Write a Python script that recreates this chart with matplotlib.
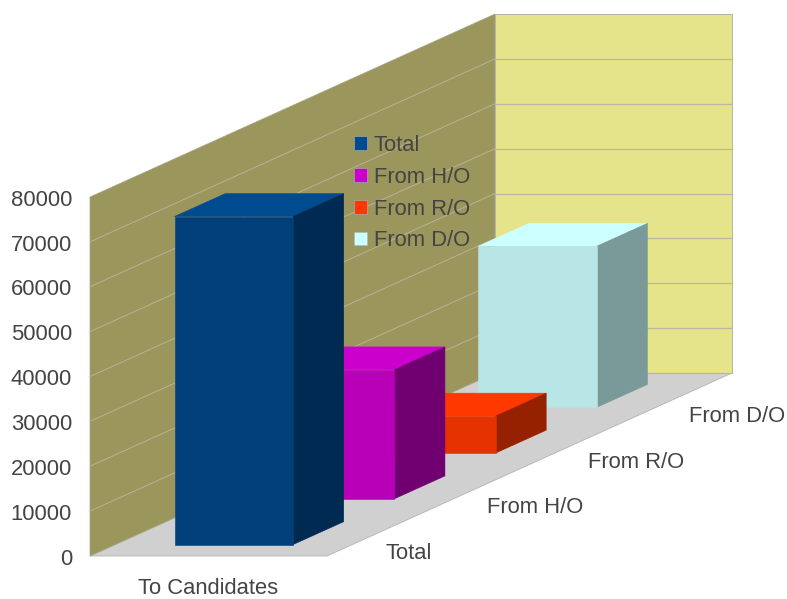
import matplotlib
matplotlib.use("Agg")
import matplotlib.pyplot as plt
from matplotlib.patches import Patch

plt.rcParams['font.family'] = ['Liberation Sans', 'DejaVu Sans']

category = "To Candidates"
series_names = ["Total", "From H/O", "From R/O", "From D/O"]
series_values = [73100, 28750, 8250, 35900]
value_ticks = [0, 10000, 20000, 30000, 40000, 50000, 60000, 70000, 80000]
front_colors = ["#003f7a", "#b800b8", "#e63200", "#b8e5e5"]
top_colors = ["#004a8f", "#cc00cc", "#ff3800", "#ccffff"]
side_colors = ["#002a52", "#700070", "#952100", "#7a9999"]
legend_colors = top_colors

TEXT = "#444444"
GRID = "#b8b8a8"
FS = 15.8

ORIGIN = (90.0, 556.0)
WIDTH = 237.0
DX, DY = 101.25, 45.75
VSCALE = 359.0 / 80000.0
VMAX = value_ticks[-1]
N = len(series_names)


def proj(x, d, v):
    """x in 0..1 across the category, d in series slots, v in data units."""
    return ORIGIN[0] + WIDTH * x + DX * d, ORIGIN[1] - DY * d - VSCALE * v


def face(ax, corners, color, z, edge=None, lw=0.0):
    pts = [proj(*c) for c in corners]
    ax.fill([p[0] for p in pts], [p[1] for p in pts], facecolor=color,
            edgecolor=edge if edge else color, linewidth=lw if edge else 0.4, zorder=z)


fig = plt.figure(figsize=(7.87, 5.99), dpi=100, facecolor="white")
ax = fig.add_axes([0, 0, 1, 1])
ax.set_xlim(0, 787)
ax.set_ylim(599, 0)
ax.axis("off")

# walls and floor
face(ax, [(0, 0, 0), (1, 0, 0), (1, N, 0), (0, N, 0)], "#d0d0d0", 1, "#b3b3b3", 0.6)
face(ax, [(0, 0, 0), (0, N, 0), (0, N, VMAX), (0, 0, VMAX)], "#9b965c", 1, "#a8a68a", 0.5)
face(ax, [(0, N, 0), (1, N, 0), (1, N, VMAX), (0, N, VMAX)], "#e6e48a", 1, "#b3b3a3", 0.7)

# gridlines and value labels
for t in value_ticks:
    a, b, c = proj(0, 0, t), proj(0, N, t), proj(1, N, t)
    if 0 < t < VMAX:
        ax.plot([a[0], b[0]], [a[1], b[1]], color="#b5b39a", lw=0.7, zorder=2)
        ax.plot([b[0], c[0]], [b[1], c[1]], color=GRID, lw=0.9, zorder=2)
    ax.text(72, a[1] + 3.2, str(t), ha="right", va="center", fontsize=FS, color=TEXT)

# bars, back to front
for i in reversed(range(N)):
    v = series_values[i]
    x0, x1 = 0.25, 0.75
    d0, d1 = i + 0.25, i + 0.75
    z = 10 + (N - i)
    face(ax, [(x0, d0, v), (x1, d0, v), (x1, d1, v), (x0, d1, v)], top_colors[i], z)
    face(ax, [(x1, d0, 0), (x1, d1, 0), (x1, d1, v), (x1, d0, v)], side_colors[i], z)
    face(ax, [(x0, d0, 0), (x1, d0, 0), (x1, d0, v), (x0, d0, v)], front_colors[i], z)

# category label and depth labels
cx, _ = proj(0.5, 0, 0)
ax.text(cx, 588.8, category, ha="center", va="center", fontsize=FS, color=TEXT)
for i, name in enumerate(series_names):
    px, py = proj(1, i + 0.5, 0)
    ax.text(px + 7.8, py + 20.5, name, ha="left", va="center", fontsize=FS, color=TEXT)

# legend
handles = [Patch(facecolor=c, edgecolor="#b3b3b3", linewidth=0.4) for c in legend_colors]
leg = ax.legend(handles, series_names, loc="upper left", bbox_to_anchor=(353.5 / 787, 1 - 135 / 599),
                bbox_transform=fig.transFigure, frameon=False, fontsize=FS, borderpad=0,
                borderaxespad=0, handlelength=0.6, handleheight=0.6, handletextpad=0.33,
                labelspacing=0.49, labelcolor=TEXT)
leg.set_zorder(30)

fig.savefig("out.png", dpi=100)
